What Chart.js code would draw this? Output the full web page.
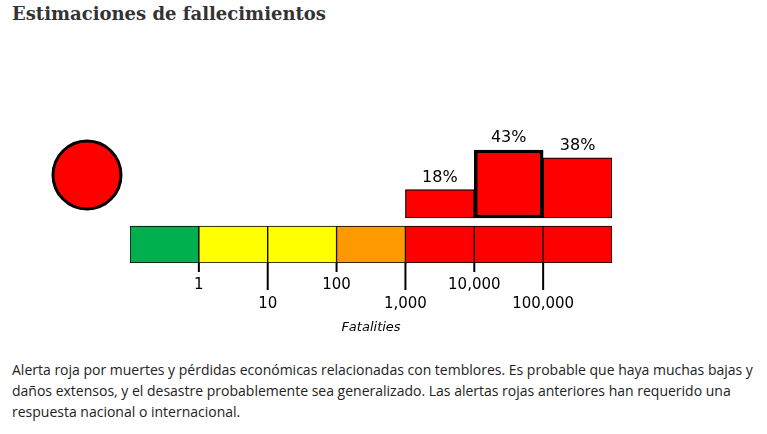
<!DOCTYPE html>
<html>
<head>
<meta charset="utf-8">
<script src="https://cdn.jsdelivr.net/npm/chart.js@4"></script>
<style>
  body { margin: 0; background: #fff; width: 767px; height: 434px; position: relative; overflow: hidden; }
  h1 { position: absolute; left: 12px; top: 3px; margin: 0; font: bold 18px "DejaVu Serif", serif; color: #333; }
  #wrap { position: absolute; left: 0; top: 100px; width: 767px; height: 250px; }
  p { position: absolute; left: 12px; top: 359px; width: 752px; margin: 0; font: 14px "Open Sans", sans-serif; line-height: 21px; color: #222; }
</style>
</head>
<body>
<h1>Estimaciones de fallecimientos</h1>
<div id="wrap"><canvas id="chart"></canvas></div>
<p>Alerta roja por muertes y pérdidas económicas relacionadas con temblores. Es probable que haya muchas bajas y daños extensos, y el desastre probablemente sea generalizado. Las alertas rojas anteriores han requerido una respuesta nacional o internacional.</p>
<script>
const categorias = ["0", "1-10", "10-100", "100-1,000", "1,000-10,000", "10,000-100,000", "100,000+"];
const coloresEscala = ["#00b04f", "#ffff00", "#ffff00", "#ff9900", "#ff0000", "#ff0000", "#ff0000"];
const probabilidades = [null, null, null, null, 18, 43, 38];
const etiquetasTicks = ["1", "10", "100", "1,000", "10,000", "100,000"];
const nivelAlerta = "#ff0000";
const masProbable = 5;

const escalaBarra = categorias.map(() => [-5.06, -28.45]);

const decoraciones = {
  id: "decoraciones",
  afterDatasetsDraw(chart) {
    const ctx = chart.ctx;
    const x = chart.scales.x;
    const area = chart.chartArea;
    const meta = chart.getDatasetMeta(1);
    ctx.save();
    // porcentajes
    ctx.fillStyle = "#000";
    ctx.font = "16px 'DejaVu Sans'";
    ctx.textAlign = "center";
    ctx.textBaseline = "bottom";
    meta.data.forEach((bar, i) => {
      if (probabilidades[i] == null) return;
      ctx.fillText(probabilidades[i] + "%", bar.x, bar.y - 4);
    });
    // ticks
    const yBase = area.bottom;
    ctx.strokeStyle = "#000";
    ctx.lineWidth = 2;
    ctx.font = "15px 'DejaVu Sans'";
    ctx.textBaseline = "middle";
    etiquetasTicks.forEach((t, i) => {
      const px = (x.getPixelForValue(i) + x.getPixelForValue(i + 1)) / 2;
      const largo = i % 2 === 1;
      ctx.beginPath();
      ctx.moveTo(px, yBase);
      ctx.lineTo(px, yBase + (largo ? 27 : 9));
      ctx.stroke();
      ctx.fillText(t, px, yBase + (largo ? 41 : 22));
    });
    ctx.font = "italic 13px 'DejaVu Sans'";
    ctx.fillText("Fatalities", (area.left + area.right) / 2, yBase + 65);
    // circulo de alerta
    ctx.beginPath();
    ctx.arc(87, 75, 34, 0, Math.PI * 2);
    ctx.fillStyle = nivelAlerta;
    ctx.fill();
    ctx.lineWidth = 3;
    ctx.stroke();
    ctx.restore();
  }
};

new Chart(document.getElementById("chart"), {
  type: "bar",
  data: {
    labels: categorias,
    datasets: [
      {
        data: escalaBarra,
        backgroundColor: coloresEscala,
        borderColor: "#000",
        borderWidth: 1,
        borderSkipped: false,
        barPercentage: 1,
        categoryPercentage: 1,
        grouped: false
      },
      {
        data: probabilidades.map(p => p == null ? null : [0, p]),
        backgroundColor: "#ff0000",
        borderColor: "#000",
        borderWidth: probabilidades.map((p, i) => i === masProbable ? 3.5 : 1.2),
        borderSkipped: false,
        barPercentage: 1,
        categoryPercentage: 1,
        grouped: false
      }
    ]
  },
  options: {
    responsive: true,
    maintainAspectRatio: false,
    animation: false,
    layout: { padding: { left: 130, right: 155, top: 30, bottom: 87 } },
    plugins: { legend: { display: false }, tooltip: { enabled: false } },
    scales: {
      x: { display: false },
      y: { display: false, min: -28.45, max: 55.65 }
    }
  },
  plugins: [decoraciones]
});
</script>
</body>
</html>
